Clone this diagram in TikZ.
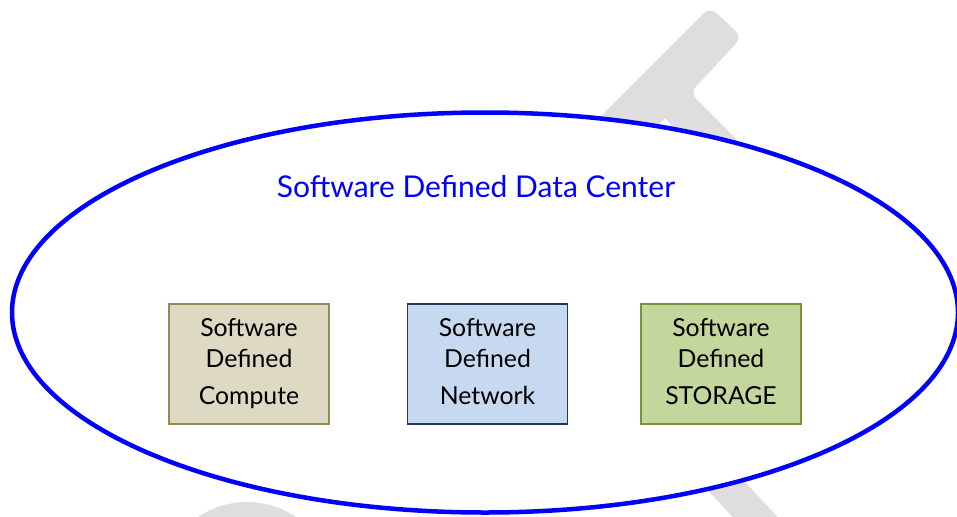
\documentclass[tikz,border=0pt]{standalone}
\usepackage{fontspec}
\usetikzlibrary{shapes.geometric}
\setmainfont{Lato}
\definecolor{wmgray}{HTML}{DEDEDE}
\definecolor{cfill}{HTML}{DDD9C3}
\definecolor{cdraw}{HTML}{948A54}
\definecolor{nfill}{HTML}{C6D9F1}
\definecolor{ndraw}{HTML}{1F3A60}
\definecolor{sfill}{HTML}{C3D69B}
\definecolor{sdraw}{HTML}{77933C}
\definecolor{sblue}{HTML}{0000FF}
\begin{document}
\begin{tikzpicture}[x=1pt,y=-1pt,
  sdbox/.style={draw, line width=1.8pt, minimum width=160pt, minimum height=120pt,
    align=center, inner sep=0pt, font=\fontsize{24.8}{31}\selectfont, text=black},
  wm/.style={fill=wmgray, draw=none}]
\useasboundingbox (0,0) rectangle (957,516);
\begin{scope}
\clip (0,0) rectangle (957,516);
% watermark pieces
\fill[wm, rounded corners=9pt] (560,157) -- (710,7) -- (742,37) -- (690,93) [sharp corners] -- (790,193) -- (760,223) -- (665,118) -- (590,193) -- cycle;
\fill[wm] (247,590) circle (88);
\fill[wm] (661,440) -- (706,440) -- (785,525) -- (740,525) -- cycle;
% ellipse
\node[draw=sblue, fill=white, line width=4.5pt, ellipse, minimum width=946pt, minimum height=400pt, inner sep=0pt] (dc) at (485,312.5) {};
\end{scope}
\node[text=sblue, font=\fontsize{30}{34}\selectfont] (title) at (476,187) {Software Defined Data Center};
\node[sdbox, fill=cfill, draw=cdraw] (compute) at (249,364) {Software\\Defined\\[6pt]Compute};
\node[sdbox, fill=nfill, draw=ndraw] (network) at (487.5,364) {Software\\Defined\\[6pt]Network\vphantom{p}};
\node[sdbox, fill=sfill, draw=sdraw] (storage) at (721,364) {Software\\Defined\\[6pt]STORAGE\vphantom{p}};
\end{tikzpicture}
\end{document}
